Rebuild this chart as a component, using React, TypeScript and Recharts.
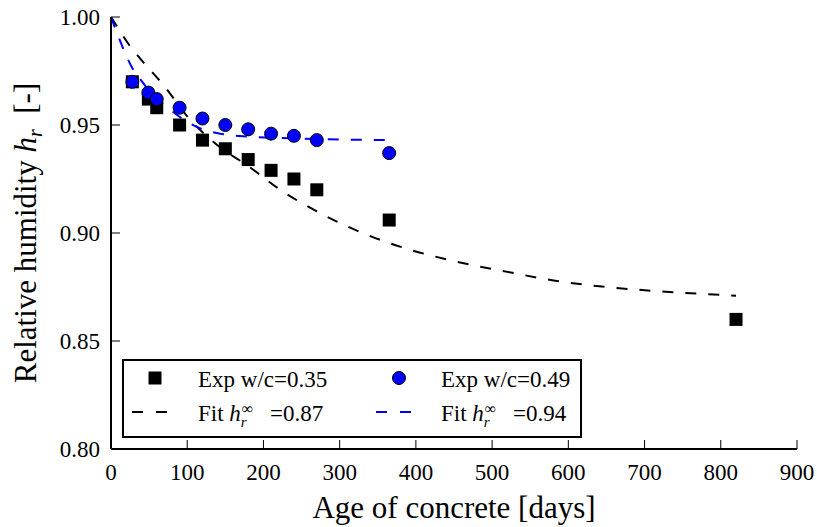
import React from 'react';
import { ComposedChart, Line, Scatter, XAxis, YAxis, Legend, Label } from 'recharts';

const FONT = '"Liberation Serif", "DejaVu Serif", "Times New Roman", serif';

const xTicks = [0, 100, 200, 300, 400, 500, 600, 700, 800, 900];
const yTicks = [0.8, 0.85, 0.9, 0.95, 1.0];

// Experimental data, w/c = 0.35 (black squares)
const expDays035 = [28, 49, 60, 90, 120, 150, 180, 210, 240, 270, 365, 820];
const expVals035 = [0.970, 0.962, 0.958, 0.950, 0.943, 0.939, 0.934, 0.929, 0.925, 0.920, 0.906, 0.860];

// Experimental data, w/c = 0.49 (blue circles)
const expDays049 = [28, 49, 60, 90, 120, 150, 180, 210, 240, 270, 365];
const expVals049 = [0.970, 0.965, 0.962, 0.958, 0.953, 0.950, 0.948, 0.946, 0.945, 0.943, 0.937];

// Fitted curve, h_inf = 0.87 (black dashed)
const fitDays087 = [0, 10, 20, 40, 70, 100, 140, 180, 220, 270, 330, 390, 450, 520, 590, 650, 720, 820];
const fitVals087 = [1.0, 0.9945, 0.989, 0.980, 0.968, 0.954, 0.9405, 0.931, 0.9205, 0.910, 0.900, 0.8925, 0.887, 0.882, 0.8775, 0.875, 0.873, 0.871];

// Fitted curve, h_inf = 0.94 (blue dashed)
const fitDays094 = [0, 13, 27, 41, 60, 73, 90, 116, 146, 182, 238, 300, 365];
const fitVals094 = [1.0, 0.988, 0.977, 0.970, 0.962, 0.9585, 0.9538, 0.9486, 0.9458, 0.9446, 0.9438, 0.9433, 0.943];

const zip = (d: number[], v: number[]) => d.map((day, i) => ({ day, value: v[i] }));

const exp035 = zip(expDays035, expVals035);
const exp049 = zip(expDays049, expVals049);
const fit087 = zip(fitDays087, fitVals087);
const fit094 = zip(fitDays094, fitVals094);

const SquareShape = (props: any) => {
  const { cx, cy } = props;
  if (cx == null || cy == null) return null;
  return <rect x={cx - 6.5} y={cy - 6.5} width={13} height={13} fill="#000" />;
};

const CircleShape = (props: any) => {
  const { cx, cy } = props;
  if (cx == null || cy == null) return null;
  return <circle cx={cx} cy={cy} r={6.5} fill="#0000ff" stroke="#000" strokeWidth={1} />;
};

const FitLabel = ({ x, y, value }: { x: number; y: number; value: string }) => (
  <text x={x} y={y} fontSize={23} fill="#000" style={{ fontFamily: FONT }}>
    Fit{'\u00a0'}
    <tspan fontStyle="italic">h</tspan>
    <tspan fontStyle="italic" fontSize={15} dy={6}>r</tspan>
    <tspan fontSize={16} dx={-5} dy={-13}>∞</tspan>
    <tspan dx={17} dy={7}>{value}</tspan>
  </text>
);

const LegendBox = () => (
  <svg width={460} height={79} style={{ display: 'block', overflow: 'visible', fontFamily: FONT }}>
    <rect x={1} y={1} width={458} height={77} fill="#fff" stroke="#000" strokeWidth={2} />
    <rect x={33 - 6.5} y={19 - 6.5} width={13} height={13} fill="#000" />
    <text x={76} y={28} fontSize={23} fill="#000" style={{ fontFamily: FONT }}>Exp w/c=0.35</text>
    <line x1={10} y1={53} x2={45} y2={53} stroke="#000" strokeWidth={2} strokeDasharray="11 13" />
    <FitLabel x={76} y={62} value="=0.87" />
    <circle cx={277} cy={19} r={6.5} fill="#0000ff" stroke="#000" strokeWidth={1} />
    <text x={319} y={28} fontSize={23} fill="#000" style={{ fontFamily: FONT }}>Exp w/c=0.49</text>
    <line x1={254} y1={53} x2={289} y2={53} stroke="#0000ff" strokeWidth={2} strokeDasharray="11 13" />
    <FitLabel x={319} y={62} value="=0.94" />
  </svg>
);

const YLabel = (props: any) => {
  const vb = props.viewBox || { x: 0, y: 17, width: 111, height: 432 };
  const cx = vb.x + 36;
  const cy = vb.y + vb.height / 2;
  return (
    <text
      transform={`translate(${cx},${cy}) rotate(-90)`}
      textAnchor="middle"
      fontSize={31}
      fill="#000"
      style={{ fontFamily: FONT }}
    >
      Relative humidity{'\u00a0'}
      <tspan fontStyle="italic">h</tspan>
      <tspan fontStyle="italic" fontSize={20} dy={6}>r</tspan>
      <tspan dy={-6}>{'\u00a0\u00a0[-]'}</tspan>
    </text>
  );
};

const XLabel = (props: any) => {
  const vb = props.viewBox || { x: 111, y: 449, width: 686, height: 78 };
  return (
    <text
      x={vb.x + vb.width / 2}
      y={vb.y + 69}
      textAnchor="middle"
      fontSize={31}
      fill="#000"
      style={{ fontFamily: FONT }}
    >
      Age of concrete [days]
    </text>
  );
};

const tickStyle = { fontFamily: FONT, fontSize: 23, fill: '#000', style: { fontFamily: FONT } };
const axisLineStyle = { stroke: '#000', strokeWidth: 2 };
const tickLineStyle = { stroke: '#000', strokeWidth: 1 };

export default function App() {
  return (
    <div style={{ position: 'absolute', left: 0, top: 0, width: 817, height: 527, background: '#fff', fontFamily: FONT }}>
      <ComposedChart
        width={817}
        height={527}
        margin={{ top: 17, right: 20, bottom: 0, left: 0 }}
        style={{ background: '#fff', fontFamily: FONT }}
      >
        <XAxis
          xAxisId="main"
          dataKey="day"
          type="number"
          domain={[0, 900]}
          ticks={xTicks}
          height={78}
          tickSize={-9}
          tickMargin={24}
          tick={tickStyle}
          axisLine={axisLineStyle}
          tickLine={tickLineStyle}
          interval={0}
          allowDataOverflow
        >
          <Label content={<XLabel />} />
        </XAxis>
        <XAxis
          xAxisId="top"
          orientation="top"
          dataKey="day"
          type="number"
          domain={[0, 900]}
          ticks={xTicks}
          height={0}
          tickSize={-9}
          tick={false}
          axisLine={axisLineStyle}
          tickLine={tickLineStyle}
          interval={0}
          allowDataOverflow
        />
        <YAxis
          yAxisId="main"
          type="number"
          domain={[0.8, 1.0]}
          ticks={yTicks}
          width={111}
          tickSize={-9}
          tickMargin={20}
          tick={tickStyle}
          tickFormatter={(v: number) => v.toFixed(2)}
          axisLine={axisLineStyle}
          tickLine={tickLineStyle}
          interval={0}
          allowDataOverflow
        >
          <Label content={<YLabel />} />
        </YAxis>
        <YAxis
          yAxisId="right"
          orientation="right"
          type="number"
          domain={[0.8, 1.0]}
          ticks={yTicks}
          width={0}
          tickSize={-9}
          tick={false}
          axisLine={axisLineStyle}
          tickLine={tickLineStyle}
          interval={0}
          allowDataOverflow
        />
        <Line
          xAxisId="main"
          yAxisId="main"
          data={fit087}
          dataKey="value"
          type="monotone"
          stroke="#000"
          strokeWidth={2}
          strokeDasharray="11 12"
          dot={false}
          activeDot={false}
          isAnimationActive={false}
        />
        <Line
          xAxisId="main"
          yAxisId="main"
          data={fit094}
          dataKey="value"
          type="monotone"
          stroke="#0000ff"
          strokeWidth={2}
          strokeDasharray="11 12"
          dot={false}
          activeDot={false}
          isAnimationActive={false}
        />
        <Scatter
          xAxisId="main"
          yAxisId="main"
          data={exp035}
          dataKey="value"
          shape={<SquareShape />}
          isAnimationActive={false}
        />
        <Scatter
          xAxisId="main"
          yAxisId="main"
          data={exp049}
          dataKey="value"
          shape={<CircleShape />}
          isAnimationActive={false}
        />
        <Legend
          layout="horizontal"
          verticalAlign="middle"
          align="center"
          content={<LegendBox />}
          wrapperStyle={{ position: 'absolute', left: 122, top: 359, width: 460, height: 79 }}
        />
      </ComposedChart>
    </div>
  );
}
